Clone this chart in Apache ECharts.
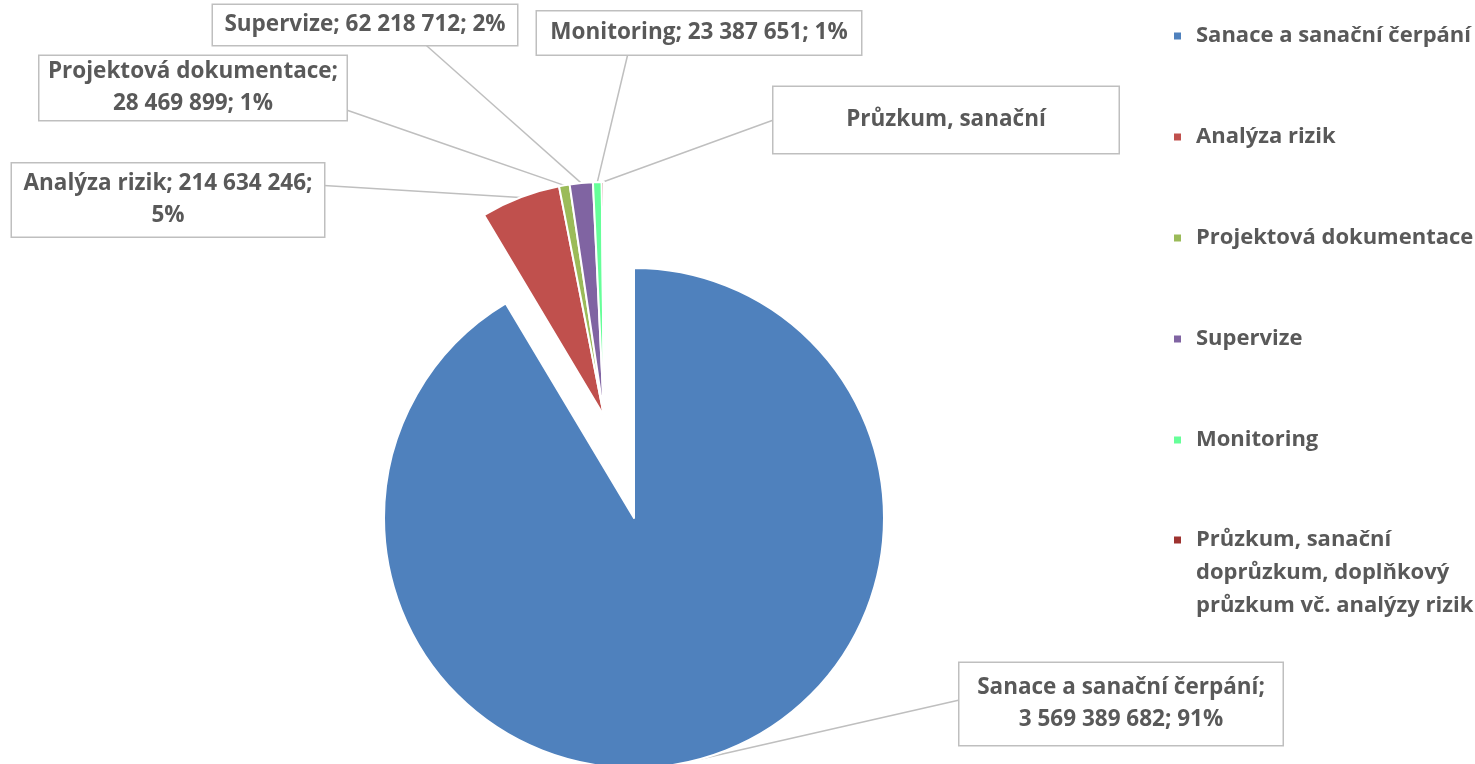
<!DOCTYPE html>
<html>
<head>
<meta charset="utf-8">
<script src="https://cdn.jsdelivr.net/npm/echarts@6/dist/echarts.min.js"></script>
<style>
  html, body { margin: 0; padding: 0; background: #fff; }
  #chart { width: 1475px; height: 764px; }
</style>
</head>
<body>
<div id="chart"></div>
<script>
// categories, in the order they are drawn clockwise from 12 o'clock
const categories = [
    'Sanace a sanační čerpání',
    'Analýza rizik',
    'Projektová dokumentace',
    'Supervize',
    'Monitoring',
    'Průzkum, sanační doprůzkum, doplňkový průzkum vč. analýzy rizik'
];
// amounts (CZK); the last one is not readable, its slice is hair-thin
const amounts = [3569389682, 214634246, 28469899, 62218712, 23387651, 6000000];
const colors = ['#4F81BD', '#C0504D', '#9BBB59', '#8064A2', '#66FF99', '#9E3330'];

// label text line break: 'name' -> after name, 'value' -> after value, 'none'
const labelBreaks = ['name', 'value', 'name', 'none', 'none', 'cut'];
// the last callout is truncated in the original
const cutLabel = 'Průzkum, sanační';

// callout boxes: centre x, centre y, width, height
const labelBoxes = [
    [1121, 704, 323, 82],
    [168, 200, 312, 73],
    [193, 88, 307, 63],
    [365, 25, 304, 40],
    [699, 33, 324, 43],
    [946, 120, 345, 66]
];
// where the leader line meets the box: side and position along it
const labelAttach = [
    ['left', 0.45],
    ['right', 0.3],
    ['right', 0.85],
    ['bottom', 0.7],
    ['bottom', 0.28],
    ['left', 0.5]
];

const LINE_H = 32;
const FONT = 'Open Sans';
const TEXT_COLOR = '#595959';
const total = amounts.reduce(function (a, b) { return a + b; }, 0);

function fmtNum(v) {
    return String(v).replace(/\B(?=(\d{3})+(?!\d))/g, ' ');
}

function wrap(text, maxChars) {
    const words = text.split(' ');
    const lines = [];
    let cur = '';
    words.forEach(function (w) {
        if (cur && (cur + ' ' + w).length > maxChars) {
            lines.push(cur);
            cur = w;
        } else {
            cur = cur ? cur + ' ' + w : w;
        }
    });
    if (cur) lines.push(cur);
    return lines;
}

function labelText(p) {
    const i = p.dataIndex;
    const pct = Math.round(p.value / total * 100) + '%';
    const val = fmtNum(p.value);
    if (labelBreaks[i] === 'cut') return cutLabel;
    if (labelBreaks[i] === 'name') return p.name + ';\n' + val + '; ' + pct;
    if (labelBreaks[i] === 'value') return p.name + '; ' + val + ';\n' + pct;
    return p.name + '; ' + val + '; ' + pct;
}

// the big slice is pulled out of the pie, so it gets its own series;
// each series holds all values (same angles) but shows only its slices
function buildData(showIdx) {
    return categories.map(function (name, i) {
        const visible = showIdx(i);
        const box = labelBoxes[i];
        const lines = labelBreaks[i] === 'name' || labelBreaks[i] === 'value' ? 2 : 1;
        const padV = Math.max(0, (box[3] - lines * LINE_H) / 2);
        return {
            name: name,
            value: amounts[i],
            itemStyle: visible ? {} : { opacity: 0 },
            label: visible ? { width: box[2], padding: [padV, 0, padV, 0] } : { show: false },
            labelLine: { show: visible }
        };
    });
}

function attachPoint(i) {
    const b = labelBoxes[i];
    const l = b[0] - b[2] / 2, t = b[1] - b[3] / 2;
    const side = labelAttach[i][0], f = labelAttach[i][1];
    if (side === 'left') return [l, t + f * b[3]];
    if (side === 'right') return [l + b[2], t + f * b[3]];
    if (side === 'top') return [l + f * b[2], t];
    return [l + f * b[2], t + b[3]];
}

const chart = echarts.init(document.getElementById('chart'), null, { renderer: 'canvas' });

const legendText = {
    fontFamily: FONT,
    fontWeight: 'bold',
    fontSize: 22,
    lineHeight: 33,
    color: TEXT_COLOR,
    padding: [0, 0, 0, 9]
};

function legendItems(from, to) {
    return categories.slice(from, to).map(function (name, k) {
        return { name: name, itemStyle: { color: colors[from + k], opacity: 1 } };
    });
}

const pieBase = {
    type: 'pie',
    startAngle: 90,
    clockwise: true,
    avoidLabelOverlap: false,
    emphasis: { disabled: true },
    itemStyle: {
        borderColor: '#fff',
        borderWidth: 2
    },
    label: {
        show: true,
        position: 'outside',
        fontFamily: FONT,
        fontWeight: 'bold',
        fontSize: 22.5,
        lineHeight: LINE_H,
        color: TEXT_COLOR,
        align: 'center',
        backgroundColor: '#fff',
        borderColor: '#bfbfbf',
        borderWidth: 1.5,
        formatter: labelText
    },
    labelLine: {
        show: true,
        length: 15,
        length2: 10,
        smooth: false,
        lineStyle: { color: '#bfbfbf', width: 1.5 }
    },
    labelLayout: function (params) {
        const i = params.dataIndex;
        const box = labelBoxes[i];
        const res = {
            x: box[0],
            y: box[1],
            align: 'center',
            verticalAlign: 'middle'
        };
        if (params.labelLinePoints) {
            const a = params.labelLinePoints[0];
            const b = attachPoint(i);
            res.labelLinePoints = [a, [(a[0] + b[0]) / 2, (a[1] + b[1]) / 2], b];
        }
        return res;
    }
};

const option = {
    backgroundColor: '#fff',
    animation: false,
    color: colors,
    legend: [
        {
            orient: 'vertical',
            left: 1167,
            top: 14.5,
            icon: 'rect',
            itemWidth: 9,
            itemHeight: 9,
            itemGap: 68,
            selectedMode: false,
            data: legendItems(0, 5),
            textStyle: legendText
        },
        {
            // multi-line entry: icon sits on its first line
            orient: 'vertical',
            left: 1167,
            top: 452.5,
            icon: 'rect',
            itemWidth: 9,
            itemHeight: 9,
            selectedMode: false,
            data: legendItems(5, 6),
            formatter: function (name) {
                const lines = wrap(name, 25);
                const pad = [];
                for (let k = 1; k < lines.length; k++) pad.push('');
                return pad.concat(lines).join('\n');
            },
            textStyle: legendText
        }
    ],
    series: [
        Object.assign({}, pieBase, {
            name: 'small',
            center: [604, 416],
            radius: 234,
            data: buildData(function (i) { return i !== 0; })
        }),
        Object.assign({}, pieBase, {
            name: 'big',
            center: [634, 518],
            radius: 250,
            data: buildData(function (i) { return i === 0; })
        })
    ]
};

chart.setOption(option);
</script>
</body>
</html>
